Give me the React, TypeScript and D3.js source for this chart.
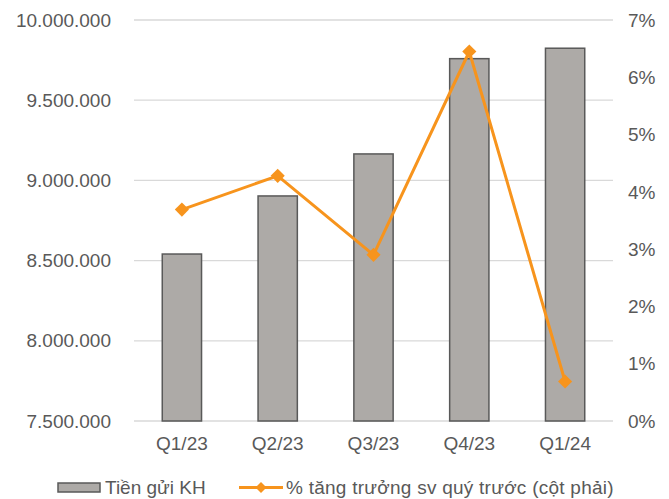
import React from "react";
import * as d3 from "d3";

// Customer deposits per quarter and quarter-over-quarter growth
const quarters = ["Q1/23", "Q2/23", "Q3/23", "Q4/23", "Q1/24"];
const deposits = [8541000, 8903000, 9165000, 9759000, 9824000];
const growthPct = [3.69, 4.28, 2.9, 6.45, 0.69];
const leftTicks = [7500000, 8000000, 8500000, 9000000, 9500000, 10000000];
const rightTicks = [0, 1, 2, 3, 4, 5, 6, 7];
const barLabel = "Tiền gửi KH";
const lineLabel = "% tăng trưởng sv quý trước (cột phải)";

const W = 669;
const H = 499;
const plot = { left: 134, right: 613, top: 20, bottom: 421 };
const FONT = "'Liberation Sans', Arial, sans-serif";
const TEXT = "#595959";
const ORANGE = "#F7941D";

const fmt = (v: number) => d3.format(",")(v).replace(/,/g, ".");

export default function App() {
  const x = d3
    .scaleBand<string>()
    .domain(quarters)
    .range([plot.left, plot.right])
    .paddingInner(0.59)
    .paddingOuter(0.295);
  const yL = d3.scaleLinear().domain([7500000, 10000000]).range([plot.bottom, plot.top]);
  const yR = d3.scaleLinear().domain([0, 7]).range([plot.bottom, plot.top]);
  const cx = (q: string) => (x(q) ?? 0) + x.bandwidth() / 2;

  const line = d3
    .line<number>()
    .x((_, i) => cx(quarters[i]))
    .y((d) => yR(d));

  const diamond = d3.symbol().type(d3.symbolSquare).size(100)();

  return (
    <svg
      width={W}
      height={H}
      style={{ position: "absolute", left: 0, top: 0, background: "#fff" }}
      fontFamily={FONT}
    >
      {leftTicks.map((t) => (
        <line
          key={"g" + t}
          x1={plot.left}
          x2={plot.right}
          y1={yL(t)}
          y2={yL(t)}
          stroke="#D9D9D9"
          strokeWidth={1.3}
        />
      ))}
      {leftTicks.map((t) => (
        <text
          key={"l" + t}
          x={111}
          y={yL(t)}
          dy="0.35em"
          textAnchor="end"
          fontSize={19}
          fill={TEXT}
        >
          {fmt(t)}
        </text>
      ))}
      {rightTicks.map((t) => (
        <text key={"r" + t} x={628} y={yR(t)} dy="0.35em" fontSize={19} fill={TEXT}>
          {t}%
        </text>
      ))}
      {quarters.map((q, i) => (
        <rect
          key={q}
          x={x(q)}
          y={yL(deposits[i])}
          width={x.bandwidth()}
          height={plot.bottom - yL(deposits[i])}
          fill="#ADAAA7"
          stroke="#595959"
          strokeWidth={1.5}
        />
      ))}
      {quarters.map((q) => (
        <text key={"x" + q} x={cx(q)} y={450} textAnchor="middle" fontSize={19} fill={TEXT}>
          {q}
        </text>
      ))}
      <path d={line(growthPct) ?? ""} fill="none" stroke={ORANGE} strokeWidth={3} strokeLinejoin="round" />
      {growthPct.map((v, i) => (
        <path
          key={"m" + i}
          d={diamond ?? ""}
          transform={`translate(${cx(quarters[i])},${yR(v)}) rotate(45)`}
          fill={ORANGE}
        />
      ))}
      {/* legend */}
      <rect x={58} y={483} width={42} height={9} fill="#ADAAA7" stroke="#595959" strokeWidth={1.5} />
      <text x={105} y={494} fontSize={19} fill={TEXT}>
        {barLabel}
      </text>
      <line x1={239} x2={283} y1={487.5} y2={487.5} stroke={ORANGE} strokeWidth={3} />
      <path d={d3.symbol().type(d3.symbolSquare).size(60)() ?? ""} transform="translate(261,487.5) rotate(45)" fill={ORANGE} />
      <text x={286} y={494} fontSize={19} fill={TEXT} letterSpacing={0.25}>
        {lineLabel}
      </text>
    </svg>
  );
}
